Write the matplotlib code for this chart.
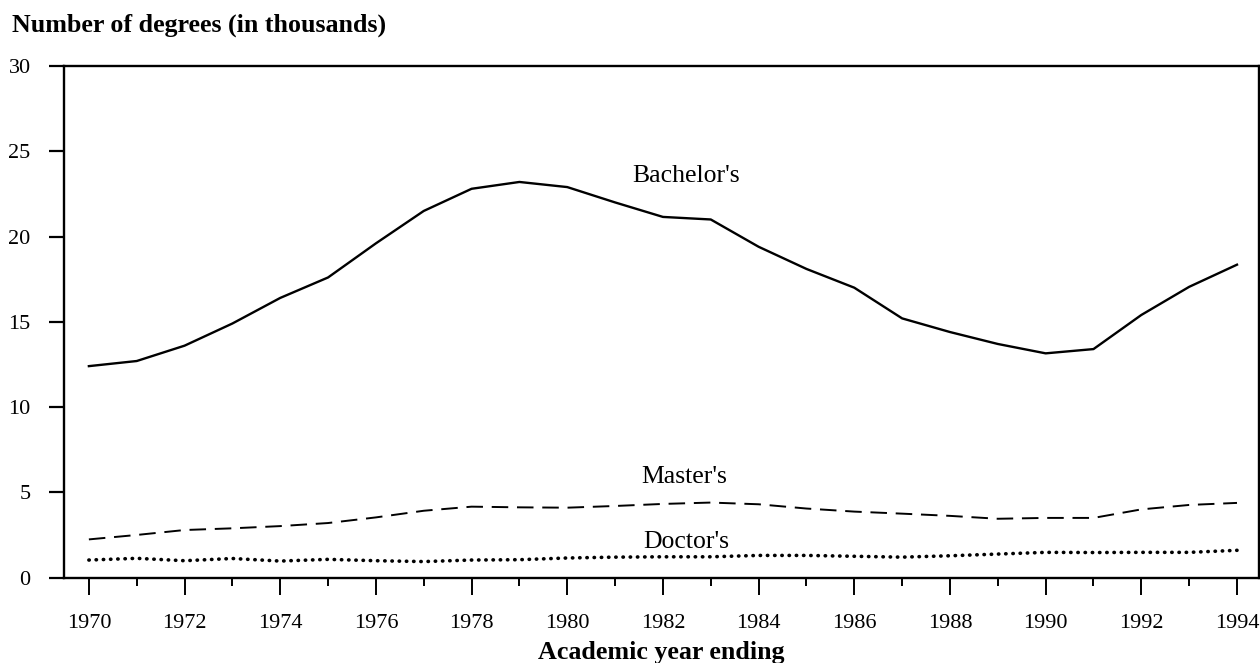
import numpy as np
import matplotlib.pyplot as plt

# degrees (in thousands) by academic year ending
years = np.arange(1970, 1995)
bachelors = [12.4, 12.7, 13.6, 14.9, 16.4, 17.6, 19.6, 21.5, 22.8, 23.2, 22.9, 22.0,
             21.15, 21.0, 19.4, 18.1, 17.0, 15.2, 14.4, 13.7, 13.15, 13.4, 15.4, 17.05, 18.35]
masters = [2.24, 2.5, 2.79, 2.89, 3.02, 3.2, 3.53, 3.92, 4.16, 4.12, 4.1, 4.2,
           4.32, 4.4, 4.3, 4.05, 3.87, 3.75, 3.62, 3.45, 3.5, 3.5, 4.0, 4.26, 4.38]
doctors = [1.03, 1.13, 0.99, 1.12, 0.97, 1.07, 0.99, 0.94, 1.03, 1.05, 1.15, 1.2,
           1.22, 1.22, 1.3, 1.3, 1.25, 1.2, 1.28, 1.38, 1.48, 1.47, 1.48, 1.48, 1.6]

plt.rcParams['font.family'] = ['Liberation Serif', 'DejaVu Serif']

fig = plt.figure(figsize = (12.6, 6.63), dpi = 100)
ax = fig.add_axes([64 / 1260, 1 - 577.6 / 663, 1195 / 1260, 511.6 / 663])

ax.plot(years, bachelors, color = 'black', lw = 1.7)
ax.plot(years, masters, color = 'black', lw = 1.4, linestyle = (0, (8.5, 4.5)))
ax.plot(years, doctors, color = 'black', lw = 2.6, linestyle = (0, (0.1, 1.9)),
        dash_capstyle = 'round')

# labels next to the lines
ax.text(1982.48, 23.55, "Bachelor's", ha = 'center', va = 'center', fontsize = 18.5)
ax.text(1982.44, 5.9, "Master's", ha = 'center', va = 'center', fontsize = 18.5)
ax.text(1982.48, 2.09, "Doctor's", ha = 'center', va = 'center', fontsize = 18.5)

ax.set_xlim(1969.48, 1994.46)
ax.set_ylim(0, 30)
ax.set_yticks([0, 5, 10, 15, 20, 25, 30])
ax.set_xticks(np.arange(1970, 1995, 2))
ax.set_xticks(np.arange(1971, 1995, 2), minor = True)

ax.tick_params(axis = 'y', direction = 'out', length = 11, width = 1.6, pad = 13, labelsize = 16)
ax.tick_params(axis = 'x', which = 'major', direction = 'out', length = 12, width = 1.4,
               pad = 14, labelsize = 16)
ax.tick_params(axis = 'x', which = 'minor', direction = 'out', length = 6, width = 1.4)
for s in ax.spines.values():
    s.set_linewidth(1.7)

fig.text(12 / 1260, 1 - 25 / 663, "Number of degrees (in thousands)", fontsize = 18.7,
         fontweight = 'bold', ha = 'left', va = 'center')
fig.text(661.5 / 1260, 1 - 652 / 663, "Academic year ending", fontsize = 18.7,
         fontweight = 'bold', ha = 'center', va = 'center')

plt.savefig('out.png', dpi = 100)
